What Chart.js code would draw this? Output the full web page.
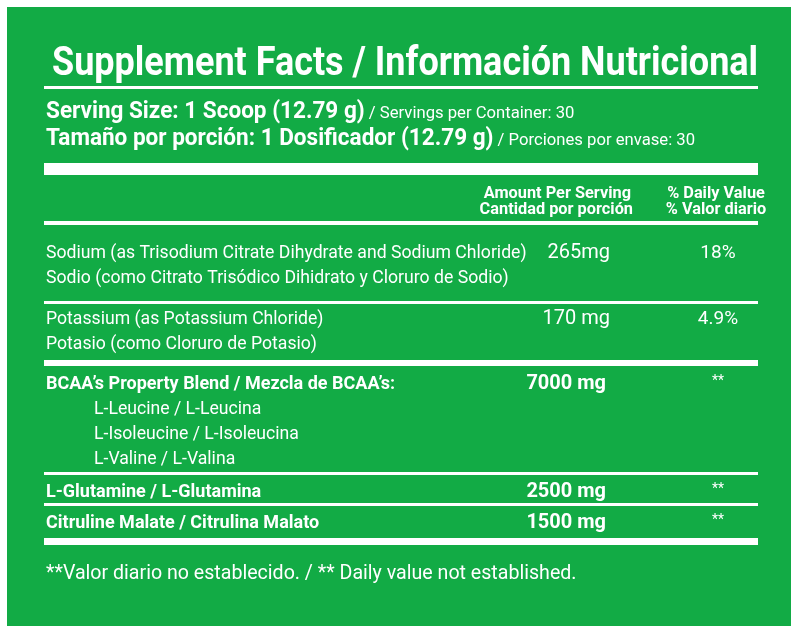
<!DOCTYPE html>
<html>
<head>
<meta charset="utf-8">
<script src="https://cdn.jsdelivr.net/npm/chart.js@4/dist/chart.umd.min.js"></script>
<style>
  html, body { margin: 0; padding: 0; background: #fff; }
  #wrap { width: 800px; height: 631px; }
</style>
</head>
<body>
<div id="wrap"><canvas id="facts"></canvas></div>
<script>
// Label data
const title = 'Supplement Facts / Información Nutricional';
const servingBold = ['Serving Size: 1 Scoop (12.79 g)', 'Tamaño por porción: 1 Dosificador (12.79 g)'];
const servingThin = [' / Servings per Container: 30', ' / Porciones por envase: 30'];
const headerAmount = ['Amount Per Serving', 'Cantidad por porción'];
const headerDV = ['% Daily Value', '% Valor diario'];
const rowNames = [
    ['Sodium (as Trisodium Citrate Dihydrate and Sodium Chloride)', 'Sodio (como Citrato Trisódico Dihidrato y Cloruro de Sodio)'],
    ['Potassium (as Potassium Chloride)', 'Potasio (como Cloruro de Potasio)'],
    ['BCAA’s Property Blend / Mezcla de BCAA’s:', 'L-Leucine / L-Leucina', 'L-Isoleucine / L-Isoleucina', 'L-Valine / L-Valina'],
    ['L-Glutamine / L-Glutamina'],
    ['Citruline Malate / Citrulina Malato']
];
const rowAmounts = ['265mg', '170 mg', '7000 mg', '2500 mg', '1500 mg'];
const rowDV = ['18%', '4.9%', '**', '**', '**'];
const rowBold = [false, false, true, true, true];
const footnote = '**Valor diario no establecido. / ** Daily value not established.';

const GREEN = '#12ab45';
const FONT = 'Roboto, "Liberation Sans", sans-serif';

function txt(ctx, s, x, y, size, bold, align, sx) {
    sx = sx || 0.86;
    ctx.save();
    ctx.font = (bold ? 'bold ' : '') + size + 'px ' + FONT;
    const w = ctx.measureText(s).width * sx;
    let x0 = x;
    if (align === 'right') x0 = x - w;
    if (align === 'center') x0 = x - w / 2;
    ctx.translate(x0, y);
    ctx.scale(sx, 1);
    ctx.textAlign = 'left';
    ctx.textBaseline = 'alphabetic';
    ctx.fillText(s, 0, 0);
    ctx.restore();
    return w;
}

const labelPlugin = {
    id: 'labelPlugin',
    beforeDraw(chart) {
        const ctx = chart.ctx;
        ctx.save();
        ctx.fillStyle = '#fff';
        ctx.fillRect(0, 0, 800, 631);
        ctx.fillStyle = GREEN;
        ctx.fillRect(7, 7, 784, 619);
        ctx.fillStyle = '#fff';

        txt(ctx, title, 52, 75, 40, true, 'left', 0.9);
        ctx.fillRect(44, 86, 714, 3);

        for (let i = 0; i < 2; i++) {
            const y = 118 + i * 27;
            const w = txt(ctx, servingBold[i], 46, y, 23, true, 'left', 0.98);
            txt(ctx, servingThin[i], 46 + w, y, 17, false, 'left', 0.98);
        }
        ctx.fillRect(44, 163, 714, 12);

        txt(ctx, headerAmount[0], 631, 198, 17, true, 'right', 0.96);
        txt(ctx, headerAmount[1], 633, 214, 17, true, 'right', 0.96);
        txt(ctx, headerDV[0], 716, 198, 17, true, 'center', 0.96);
        txt(ctx, headerDV[1], 716, 214, 17, true, 'center', 0.96);
        ctx.fillRect(44, 221, 714, 4);

        const rowTop = [258, 324, 389, 497, 528];
        const dividers = [[301, 3], [360, 6], [472, 3], [503, 3], [538, 7]];
        const amtX = [610, 610, 606, 606, 606];
        for (let r = 0; r < rowNames.length; r++) {
            const names = rowNames[r];
            for (let k = 0; k < names.length; k++) {
                const indent = (r === 2 && k > 0) ? 94 : 46;
                const bold = rowBold[r] && !(r === 2 && k > 0);
                txt(ctx, names[k], indent, rowTop[r] + k * 25, 18, bold, 'left', bold ? 1.0 : 0.98);
            }
            txt(ctx, rowAmounts[r], amtX[r], rowTop[r], 20, rowBold[r], 'right', 1.0);
            txt(ctx, rowDV[r], 718, rowTop[r] - (rowBold[r] ? 4 : 0), rowBold[r] ? 14 : 19, false, 'center', 1.0);
            ctx.fillRect(44, dividers[r][0], 714, dividers[r][1]);
        }

        txt(ctx, footnote, 46, 579, 20, false, 'left', 0.98);
        ctx.restore();
    }
};

new Chart(document.getElementById('facts'), {
    type: 'bar',
    data: { labels: rowAmounts, datasets: [{ data: [], backgroundColor: 'transparent' }] },
    options: {
        responsive: true,
        maintainAspectRatio: false,
        animation: false,
        plugins: { legend: { display: false }, tooltip: { enabled: false } },
        scales: { x: { display: false }, y: { display: false } }
    },
    plugins: [labelPlugin]
});
</script>
</body>
</html>
